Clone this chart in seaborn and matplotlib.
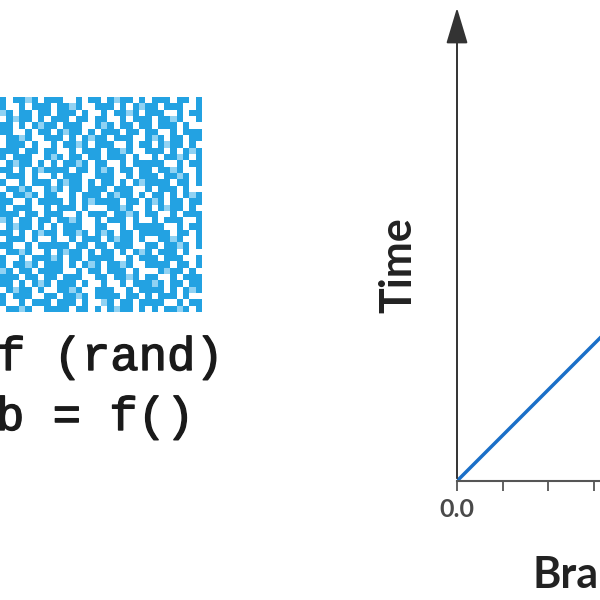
import numpy as np
import seaborn as sns
import matplotlib
matplotlib.use('Agg')
import matplotlib.pyplot as plt
import matplotlib.patheffects as pe
from matplotlib.colors import ListedColormap

# hand drawn texture blocks for the noise patch (#=blue, +=light blue, .=white)
blocks = {
    'A': '#.##+#.#', 'B': '##..#.##', 'C': '.#+##.#.', 'D': '###.##.#',
    'E': '#..#.###', 'F': '.##+#..#', 'G': '##.#.#+#', 'H': '#.###..#',
    'I': '+#.##.##', 'J': '.###.#..',
}
patch_rows = ['ABCD', 'EFGH', 'IJAB', 'CDEF', 'GHIJ', 'BCDE', 'FGHI', 'JABC',
              'DEFG', 'HIJA', 'CAEB', 'GDIF', 'JHBA', 'ECGD', 'FIHJ', 'AECG',
              'BGDI', 'HJFC', 'DBAE', 'IFJH', 'CHEB', 'GAID', 'JECF', 'BDHA',
              'FCGJ', 'EIBH', 'AGFD', 'IBJC', 'DHAE', 'GJEI', 'CFBG', 'HADJ',
              'EJIB', 'FDCA']

# line of the right chart
branch_x = [0.0, 0.5]
time_y = [0.0, 0.5]
major_ticks = [0.0, 0.5]
major_labels = ['0.0', '']
minor_ticks = [0.1, 0.2, 0.3, 0.4]

code_lines = ['f (rand)', 'b = f()']

sns.set_style('white')
plt.rcParams['font.family'] = ['Lato', 'DejaVu Sans']

fig = plt.figure(figsize=(6, 6), dpi=100)

# noise patch
lut = {'.': 0, '+': 1, '#': 2}
grid = np.array([[lut[c] for c in ''.join(blocks[k] for k in row)] for row in patch_rows])
ax_p = fig.add_axes([0.0, 1 - 312 / 600, 202 / 600, 215 / 600])
sns.heatmap(grid, ax=ax_p, cbar=False, cmap=ListedColormap(['#ffffff', '#90d2f3', '#23a2e2']),
            xticklabels=False, yticklabels=False, vmin=0, vmax=2)
ax_p.set_axis_off()

# code text, slightly thickened
thick = [pe.withStroke(linewidth=1.0, foreground='#1a1a1a')]
fig.text(-3 / 600, 1 - 370 / 600, code_lines[0], family='Liberation Mono',
         fontsize=34, color='#1a1a1a', va='baseline', ha='left', path_effects=thick)
fig.text(-4 / 600, 1 - 430 / 600, code_lines[1], family='Liberation Mono',
         fontsize=34, color='#1a1a1a', va='baseline', ha='left', path_effects=thick)

# right chart
ax = fig.add_axes([457 / 600, 119 / 600, 300 / 600, 476 / 600])
sns.lineplot(x=branch_x, y=time_y, ax=ax, color='#1a6fc8', linewidth=2.5)
ax.set_xlim(0, 300 / 455)
ax.set_ylim(0, 476 / 455)
for s in ['top', 'right', 'left']:
    ax.spines[s].set_visible(False)
ax.spines['bottom'].set_color('#555555')
ax.spines['bottom'].set_linewidth(1.5)
ax.set_yticks([])
ax.set_xticks(major_ticks)
ax.set_xticklabels(major_labels)
ax.set_xticks(minor_ticks, minor=True)
ax.tick_params(axis='x', which='both', direction='out', length=7.5, width=1.3,
               color='#555555', bottom=True)
ax.tick_params(axis='x', which='major', labelsize=18, labelcolor='#4a4a4a', pad=5)
for lab in ax.get_xticklabels():
    lab.set_fontweight('bold')
ax.annotate('', xy=(0, 1), xycoords='axes fraction', xytext=(0, 0),
            arrowprops=dict(arrowstyle='-|>,head_length=1.5,head_width=0.45',
                            mutation_scale=15, color='#333333', lw=1.4),
            annotation_clip=False)

fig.text(398 / 600, 1 - 265 / 600, 'Time', rotation=90, fontsize=31, fontweight='bold',
         color='#222222', ha='center', va='center')
fig.text(533 / 600, 1 - 588 / 600, 'Branch', fontsize=31, fontweight='bold',
         color='#222222', ha='left', va='baseline')

plt.savefig('out.png', dpi=100)
plt.close()
